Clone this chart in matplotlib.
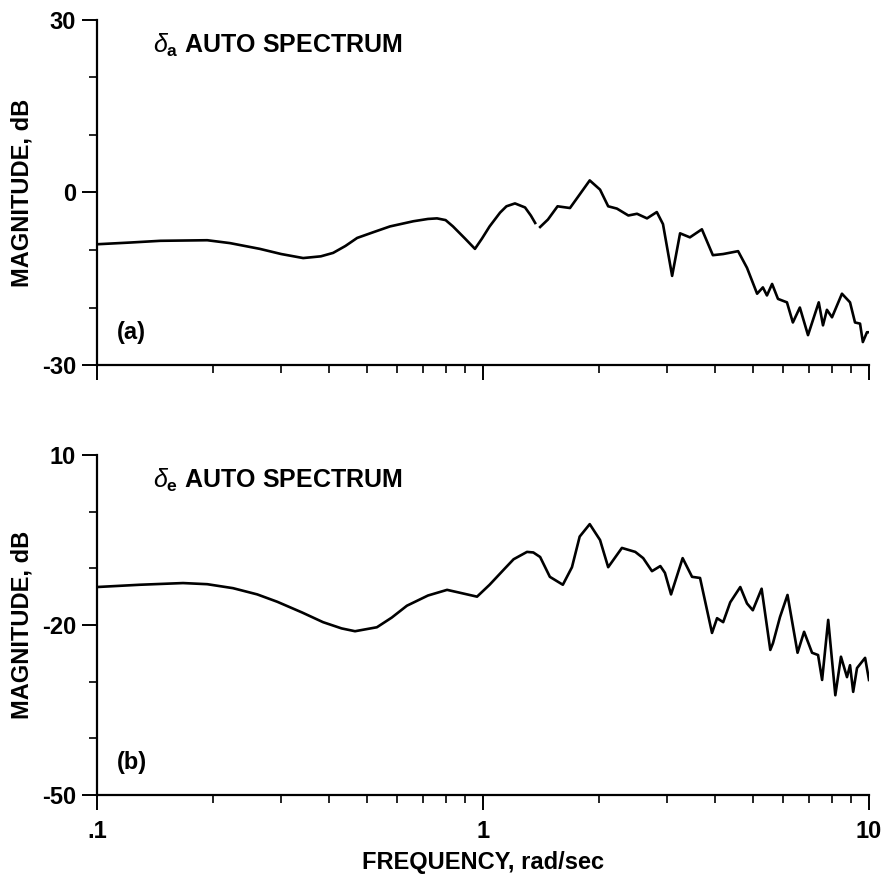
import numpy as np
import matplotlib
matplotlib.use("Agg")
import matplotlib.pyplot as plt
from matplotlib.ticker import FixedLocator, NullFormatter, FixedFormatter

plt.rcParams['font.family'] = ['Liberation Sans', 'DejaVu Sans']
plt.rcParams['mathtext.fontset'] = 'custom'
plt.rcParams['mathtext.rm'] = 'Liberation Sans'
plt.rcParams['mathtext.it'] = 'Liberation Sans:italic'
plt.rcParams['mathtext.bf'] = 'Liberation Sans:bold'

# ---- data: delta_a auto spectrum (top) ----
freq_a = [0.1, 0.122, 0.146, 0.193, 0.221, 0.264, 0.30, 0.342, 0.38, 0.409,
          0.44, 0.472, 0.52, 0.574, 0.66, 0.72, 0.760, 0.80, 0.836, 0.898,
          0.953, 0.994, 1.04, 1.107, 1.15, 1.21, 1.285, 1.33, 1.365,
          1.38, 1.406, 1.473, 1.56, 1.68, 1.782, 1.89, 2.01, 2.11, 2.223,
          2.38, 2.506, 2.66, 2.82, 2.926, 3.09, 3.24, 3.436, 3.69, 3.94,
          4.19, 4.58, 4.83, 5.13, 5.31, 5.44, 5.61, 5.81, 6.13, 6.35,
          6.62, 6.95, 7.41, 7.60, 7.78, 8.02, 8.51, 8.93, 9.20, 9.48,
          9.64, 9.88, 10.0]
mag_a = [-9.0, -8.7, -8.4, -8.3, -8.8, -9.8, -10.7, -11.4, -11.1, -10.5,
         -9.3, -7.9, -6.9, -5.9, -5.0, -4.6, -4.5, -4.8, -5.9, -8.0,
         -9.8, -8.0, -5.9, -3.5, -2.4, -1.9, -2.6, -4.0, -5.3,
         np.nan, -6.0, -4.7, -2.4, -2.7, -0.3, 2.1, 0.5, -2.4, -2.8,
         -4.0, -3.7, -4.5, -3.4, -5.5, -14.5, -7.1, -7.8, -6.4, -10.9,
         -10.7, -10.2, -13.1, -17.6, -16.5, -17.9, -15.9, -18.5, -19.1, -22.6,
         -20.0, -24.8, -19.1, -23.1, -20.4, -21.7, -17.6, -19.1, -22.6, -22.8,
         -26.0, -24.3, -24.3]

# ---- data: delta_e auto spectrum (bottom) ----
freq_e = [0.1, 0.129, 0.167, 0.193, 0.225, 0.26, 0.293, 0.34, 0.385, 0.43,
          0.466, 0.531, 0.58, 0.635, 0.72, 0.807, 0.857, 0.965, 1.04, 1.14,
          1.20, 1.30, 1.35, 1.406, 1.49, 1.61, 1.70,
          1.78, 1.89, 2.01, 2.11, 2.29, 2.48, 2.60, 2.74, 2.88, 2.96,
          3.07, 3.29, 3.48, 3.65, 3.92, 4.04, 4.19, 4.37, 4.64, 4.83,
          5.00, 5.27, 5.55, 5.64, 5.88, 6.15, 6.53, 6.79, 7.12, 7.38,
          7.56, 7.84, 8.18, 8.46, 8.77, 8.93, 9.10, 9.31, 9.77, 10.0]
mag_e = [-13.3, -12.9, -12.6, -12.8, -13.5, -14.6, -15.9, -17.8, -19.5, -20.6,
         -21.1, -20.4, -18.7, -16.6, -14.8, -13.8, -14.2, -15.0, -12.9, -10.0,
         -8.4, -7.1, -7.2, -8.0, -11.5, -12.9, -9.8,
         -4.4, -2.2, -5.0, -9.8, -6.4, -7.1, -8.2, -10.5, -9.6, -10.8,
         -14.6, -8.2, -11.5, -11.7, -21.4, -18.8, -19.5, -16.0, -13.3, -16.2,
         -17.4, -13.6, -24.4, -23.2, -18.6, -14.7, -24.9, -21.2, -24.9, -25.3,
         -29.7, -19.1, -32.4, -25.6, -29.2, -27.1, -31.8, -27.6, -25.8, -29.7]

x_major = [0.1, 1, 10]
x_labels = ['.1', '1', '10']
ylim_a = (-30, 30)
yticks_a = [-30, 0, 30]
ylim_e = (-50, 10)
yticks_e = [-50, -20, 10]

fig = plt.figure(figsize=(8.87, 8.83), dpi=100)
ax1 = fig.add_axes([0.1094, 0.5866, 0.8703, 0.3908])
ax2 = fig.add_axes([0.1094, 0.0997, 0.8703, 0.3850])

FS = 17

def style(ax, ylim, yticks, title, panel):
    ax.set_xscale('log')
    ax.set_xlim(0.1, 10)
    ax.set_ylim(*ylim)
    for s in ['top', 'right']:
        ax.spines[s].set_visible(False)
    for s in ['left', 'bottom']:
        ax.spines[s].set_linewidth(1.6)
    ax.xaxis.set_major_locator(FixedLocator(x_major))
    ax.xaxis.set_major_formatter(FixedFormatter(x_labels))
    ax.xaxis.set_minor_locator(FixedLocator(
        [m * d for d in (0.1, 1) for m in range(2, 10)]))
    ax.xaxis.set_minor_formatter(NullFormatter())
    ax.set_yticks(yticks)
    ax.set_yticklabels([str(t) for t in yticks])
    ax.yaxis.set_minor_locator(FixedLocator(list(range(ylim[0], ylim[1] + 1, 10))))
    ax.tick_params(which='major', direction='out', length=11, width=1.4,
                   labelsize=FS, pad=4)
    ax.tick_params(axis='x', which='major', pad=7)
    ax.tick_params(which='minor', direction='out', length=6, width=1.2)
    for lab in ax.get_xticklabels() + ax.get_yticklabels():
        lab.set_fontweight('bold')
    ax.set_ylabel('MAGNITUDE, dB', fontsize=FS, fontweight='bold', labelpad=6)
    ax.text(0.072, 0.925, title, transform=ax.transAxes, fontsize=FS + 1,
            fontweight='bold', va='center', ha='left')
    ax.text(0.026, 0.095, panel, transform=ax.transAxes, fontsize=FS,
            fontweight='bold', va='center', ha='left')

ax1.plot(freq_a, mag_a, color='black', lw=1.9, solid_joinstyle='round')
ax2.plot(freq_e, mag_e, color='black', lw=1.9, solid_joinstyle='round')

style(ax1, ylim_a, yticks_a, r'$\delta_{\mathbf{a}}$ AUTO SPECTRUM', '(a)')
style(ax2, ylim_e, yticks_e, r'$\delta_{\mathbf{e}}$ AUTO SPECTRUM', '(b)')
ax1.tick_params(axis='x', labelbottom=False)

ax2.set_xlabel('FREQUENCY, rad/sec', fontsize=FS, fontweight='bold', labelpad=6)

fig.savefig('out.png', dpi=100)
